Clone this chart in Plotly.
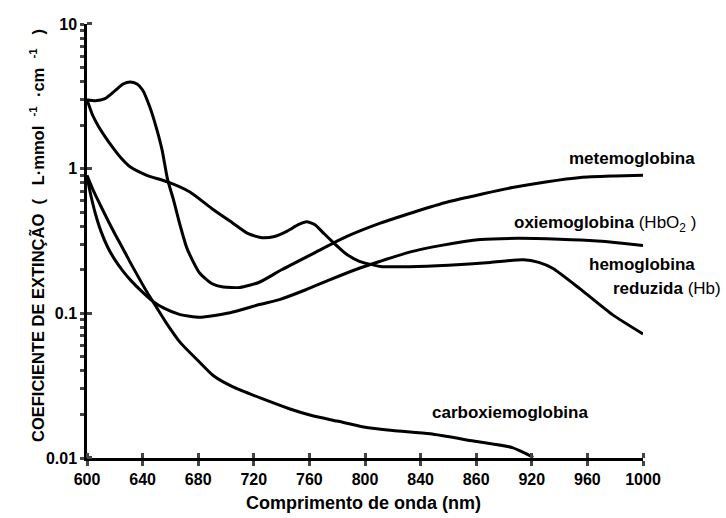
import plotly.graph_objects as go

# Extinction coefficients (L·mmol^-1·cm^-1) versus wavelength (nm)
met_x = [600, 606, 613, 620, 626, 631, 636, 640, 645, 650, 654, 658, 662, 666, 672,
         681, 690, 698, 710, 724, 740, 763, 787, 811, 835, 860, 885, 906, 930, 955, 980, 1000]
met_y = [3.0, 2.95, 3.05, 3.45, 3.85, 3.98, 3.85, 3.5, 2.7, 1.9, 1.35, 0.84, 0.62, 0.44, 0.28,
         0.19, 0.16, 0.152, 0.151, 0.164, 0.2, 0.26, 0.34, 0.42, 0.5, 0.59, 0.67, 0.74, 0.81, 0.87, 0.89, 0.9]

hb_x = [600, 604, 608, 612, 619, 625, 631, 643, 658, 674, 691, 705, 716, 726, 735, 744, 752,
        758, 764, 770, 777, 787, 796, 811, 832, 860, 890, 914, 925, 935, 955, 978, 1000]
hb_y = [3.0, 2.35, 1.98, 1.72, 1.38, 1.17, 1.03, 0.9, 0.81, 0.69, 0.52, 0.42, 0.355, 0.333, 0.34, 0.37, 0.41,
        0.43, 0.41, 0.36, 0.31, 0.255, 0.229, 0.211, 0.21, 0.215, 0.225, 0.235, 0.225, 0.205, 0.147, 0.098, 0.072]

hbo2_x = [600, 603, 606, 610, 615, 620, 626, 632, 639, 647, 655, 667, 681, 703, 724, 739, 757,
          775, 793, 811, 832, 855, 883, 910, 940, 967, 985, 1000]
hbo2_y = [0.88, 0.64, 0.49, 0.37, 0.285, 0.235, 0.195, 0.167, 0.143, 0.122, 0.109, 0.098, 0.094, 0.101,
          0.115, 0.125, 0.145, 0.171, 0.2, 0.229, 0.265, 0.295, 0.324, 0.33, 0.325, 0.316, 0.305, 0.294]

co_x = [600, 605, 610, 615, 620, 625, 631, 637, 643, 650, 657, 667, 680, 691, 705, 727,
        745, 763, 780, 799, 820, 847, 878, 906, 915, 921]
co_y = [0.9, 0.69, 0.55, 0.44, 0.355, 0.29, 0.226, 0.178, 0.141, 0.11, 0.086, 0.063, 0.047, 0.037, 0.031,
        0.0255, 0.022, 0.0195, 0.018, 0.0164, 0.0155, 0.0147, 0.0131, 0.0118, 0.0108, 0.0101]

x_tickvals = [600, 640, 680, 720, 760, 800, 840, 880, 920, 960, 1000]
x_ticktext = ["600", "640", "680", "720", "760", "800", "840", "860", "920", "960", "1000"]
y_decades = [0.01, 0.1, 1, 10]
y_decade_text = ["0.01", "0.1", "1", "10"]

# log-axis ticks: every 1..9 step of each decade, labelled only at the decades
y_tickvals, y_ticktext = [], []
for i, d in enumerate(y_decades):
    y_tickvals.append(d)
    y_ticktext.append("<b>%s</b>" % y_decade_text[i])
    if i < len(y_decades) - 1:
        for m in range(2, 10):
            y_tickvals.append(m * d)
            y_ticktext.append("")

FONT = "Liberation Sans, Arial, sans-serif"
TICKFONT = dict(family=FONT, size=16, color="black")
INK = "#444444"

fig = go.Figure()
for xs, ys in [(met_x, met_y), (hb_x, hb_y), (hbo2_x, hbo2_y), (co_x, co_y)]:
    fig.add_trace(go.Scatter(x=xs, y=ys, mode="lines",
                             line=dict(color="black", width=3, shape="spline", smoothing=0.6),
                             showlegend=False, hoverinfo="skip", cliponaxis=False))

# nudged copies of the major ticks, drawn inward so the major ticks cross the axis line
x_inner = [v + 0.01 for v in x_tickvals]
y_inner = [v * 1.0001 for v in y_decades]

fig.update_layout(
    width=726, height=518,
    margin=dict(l=87, r=83, t=24, b=60),
    paper_bgcolor="white", plot_bgcolor="white",
    font=dict(family=FONT, color="black"),
    xaxis=dict(range=[600, 1000], tickmode="array", tickvals=x_tickvals,
               ticktext=["<b>%s</b>" % t for t in x_ticktext],
               ticks="outside", ticklen=5, tickwidth=3, tickcolor=INK, tickfont=TICKFONT,
               showline=True, linecolor="black", linewidth=2.5, showgrid=False, zeroline=False,
               minor=dict(tickmode="array", tickvals=x_inner, ticks="inside",
                          ticklen=5, tickwidth=3, tickcolor=INK, showgrid=False)),
    yaxis=dict(type="log", range=[-2, 1], tickmode="array", tickvals=y_tickvals,
               ticktext=y_ticktext,
               ticks="outside", ticklen=4, tickwidth=3, tickcolor=INK, tickfont=TICKFONT,
               showline=True, linecolor="black", linewidth=2.5, showgrid=False, zeroline=False,
               minor=dict(tickmode="array", tickvals=y_inner, ticks="inside",
                          ticklen=5, tickwidth=3, tickcolor=INK, showgrid=False)),
)

def px_x(p):
    return (p - 87) / 556

def px_y(p):
    return 1 - (p - 24) / 434

lab = dict(family=FONT, size=17, color="black")
notes = [
    ("<b>metemoglobina</b>", 697, 158, "right"),
    ("<b>oxiemoglobina</b> (HbO<sub>2</sub> )", 698, 224, "right"),
    ("<b>hemoglobina</b>", 697, 264, "right"),
    ("<b>reduzida</b> (Hb)", 723, 288, "right"),
    ("<b>carboxiemoglobina</b>", 430, 412, "left"),
]
for text, x, y, anchor in notes:
    fig.add_annotation(text=text, xref="paper", yref="paper", x=px_x(x), y=px_y(y),
                       xanchor=anchor, yanchor="middle", showarrow=False, font=lab)

fig.add_annotation(text="<b>Comprimento de onda (nm)</b>", xref="paper", yref="paper",
                   x=px_x(363), y=px_y(503), xanchor="center", yanchor="middle",
                   showarrow=False, font=dict(family=FONT, size=18, color="black"))

nb = "\u00a0"
ytitle = ("<b>COEFICIENTE DE EXTINÇÃO" + nb * 2 + "(" + nb * 3 + "L·mmol" + nb * 2 + "<sup>-1</sup>"
          + nb * 2 + "·cm" + nb * 2 + "<sup>-1</sup>" + nb * 3 + ")</b>")
fig.add_annotation(text=ytitle, xref="paper", yref="paper", x=px_x(37), y=px_y(236), textangle=-90,
                   xanchor="center", yanchor="middle", showarrow=False,
                   font=dict(family=FONT, size=16.5, color="black"))

fig.write_html("out.html")
